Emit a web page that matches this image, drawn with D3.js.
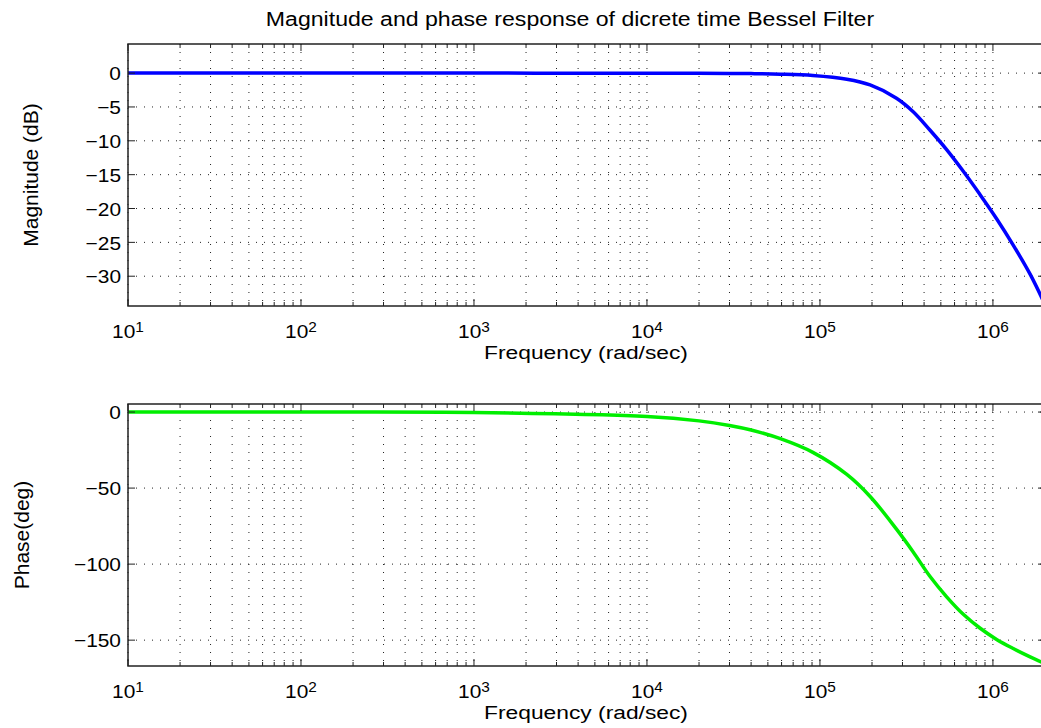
<!DOCTYPE html>
<meta charset="utf-8">
<script src="https://d3js.org/d3.v7.min.js"></script>
<style>
  body { margin: 0; background: #fff; }
  text { font-family: "Liberation Sans", Arial, Helvetica, sans-serif; fill: #000; }
</style>
<body>
<div id="my_dataviz"></div>
<script>

  // frequency points (rad/sec)
  var freq     = [10, 100, 1000, 10000, 20000, 30000, 40000, 59000, 91000, 143000, 195000, 277000, 346000, 432000, 540000, 674000, 840000, 1050000, 1310000, 1640000, 2000000]
  // magnitude (dB)
  var magDb    = [0, 0, 0, -0.01, -0.02, -0.04, -0.07, -0.15, -0.35, -0.9, -1.75, -3.7, -5.7, -8.4, -11.3, -14.5, -17.9, -21.5, -25.4, -29.7, -34.2]
  // phase (deg)
  var phaseDeg = [0, -0.03, -0.3, -2.9, -5.8, -8.8, -11.8, -17.5, -26.5, -41, -55.5, -77, -92, -108, -121.5, -133, -142, -149.5, -155.5, -161, -165.5]

  var magTicks   = [0, -5, -10, -15, -20, -25, -30]
  var phaseTicks = [0, -50, -100, -150]
  var decadeExps = [1, 2, 3, 4, 5, 6]

  var width = 1041, height = 728
  var left = 128, right = 1045
  var SX = 1.1   // text in the original is slightly wide

  var svg = d3.select("#my_dataviz")
    .append("svg")
      .attr("width", width)
      .attr("height", height)

  svg.append("rect").attr("width", width).attr("height", height).attr("fill", "#fff")

  var x = d3.scaleLog().domain([10, 2e6]).range([left, right])

  // wide text helper: translate then stretch horizontally
  function label(parent, px, py, size, anchor, sx) {
    var g = parent.append("g").attr("transform", "translate(" + px + "," + py + ") scale(" + sx + ",1)")
    return g.append("text").attr("font-size", size).attr("text-anchor", anchor)
  }

  function panel(id, top, bottom, y, yTicks, values, color, ylab, ylabX) {
    var g = svg.append("g")

    g.append("clipPath").attr("id", id)
      .append("rect").attr("x", left).attr("y", top).attr("width", right - left).attr("height", bottom - top)

    var xt = x.ticks()
    var isMajor = function(d) { return Math.abs(Math.log10(d) - Math.round(Math.log10(d))) < 1e-9 }

    // dotted grid
    g.selectAll(".vgrid").data(xt).enter().append("line")
      .attr("x1", d => x(d)).attr("x2", d => x(d))
      .attr("y1", top).attr("y2", bottom)
      .attr("stroke", "#222").attr("stroke-width", 1).attr("stroke-dasharray", "1,7")
    g.selectAll(".hgrid").data(yTicks).enter().append("line")
      .attr("x1", left).attr("x2", right)
      .attr("y1", d => y(d)).attr("y2", d => y(d))
      .attr("stroke", "#222").attr("stroke-width", 1).attr("stroke-dasharray", "1,7")

    // the curve
    var line = d3.line()
      .x(function(d, i) { return x(freq[i]) })
      .y(function(d) { return y(d) })
      .curve(d3.curveCatmullRom.alpha(0.5))
    g.append("path")
      .datum(values)
      .attr("clip-path", "url(#" + id + ")")
      .attr("fill", "none")
      .attr("stroke", color)
      .attr("stroke-width", 3.5)
      .attr("stroke-linejoin", "round")
      .attr("d", line)

    // ticks inside on all sides
    g.selectAll(".xtick").data(xt).enter().append("path")
      .attr("d", function(d) {
        var L = isMajor(d) ? 7 : 4
        return "M" + x(d) + "," + bottom + "v" + (-L) + "M" + x(d) + "," + top + "v" + L
      })
      .attr("stroke", "#222").attr("stroke-width", 1)
    g.selectAll(".ytick").data(yTicks).enter().append("path")
      .attr("d", d => "M" + left + "," + y(d) + "h7M" + right + "," + y(d) + "h-7")
      .attr("stroke", "#222").attr("stroke-width", 1)

    // box
    g.append("rect")
      .attr("x", left).attr("y", top).attr("width", right - left).attr("height", bottom - top)
      .attr("fill", "none").attr("stroke", "#222").attr("stroke-width", 1.5)

    // y tick labels
    yTicks.forEach(function(v) {
      label(g, 121, y(v) + 7.2, 19, "end", SX)
        .text(v < 0 ? "\u2212" + Math.abs(v) : String(v))
    })

    // x tick labels 10^n
    decadeExps.forEach(function(e) {
      var t = label(g, x(Math.pow(10, e)), bottom + 32.3, 19, "middle", SX)
      t.append("tspan").text("10")
      t.append("tspan").attr("font-size", 14).attr("dy", -6.5).text(e)
    })

    // x axis label
    label(g, 586, bottom + 53, 19, "middle", 1.2).text("Frequency (rad/sec)")

    // y axis label
    g.append("text")
      .attr("transform", "translate(" + ylabX + "," + ((top + bottom) / 2) + ") rotate(-90)")
      .attr("text-anchor", "middle")
      .attr("font-size", 21)
      .text(ylab)
  }

  var yMag = d3.scaleLinear().domain([-34.4, 4.3]).range([306, 44])
  var yPh  = d3.scaleLinear().domain([-167, 5.3]).range([666, 404])

  panel("clipMag", 44, 306, yMag, magTicks, magDb, "#0000ff", "Magnitude (dB)", 38)
  panel("clipPh", 404, 666, yPh, phaseTicks, phaseDeg, "#00ee00", "Phase(deg)", 29)

  // title
  label(svg, 570, 26, 21, "middle", SX).text("Magnitude and phase response of dicrete time Bessel Filter")

</script>
</body>
